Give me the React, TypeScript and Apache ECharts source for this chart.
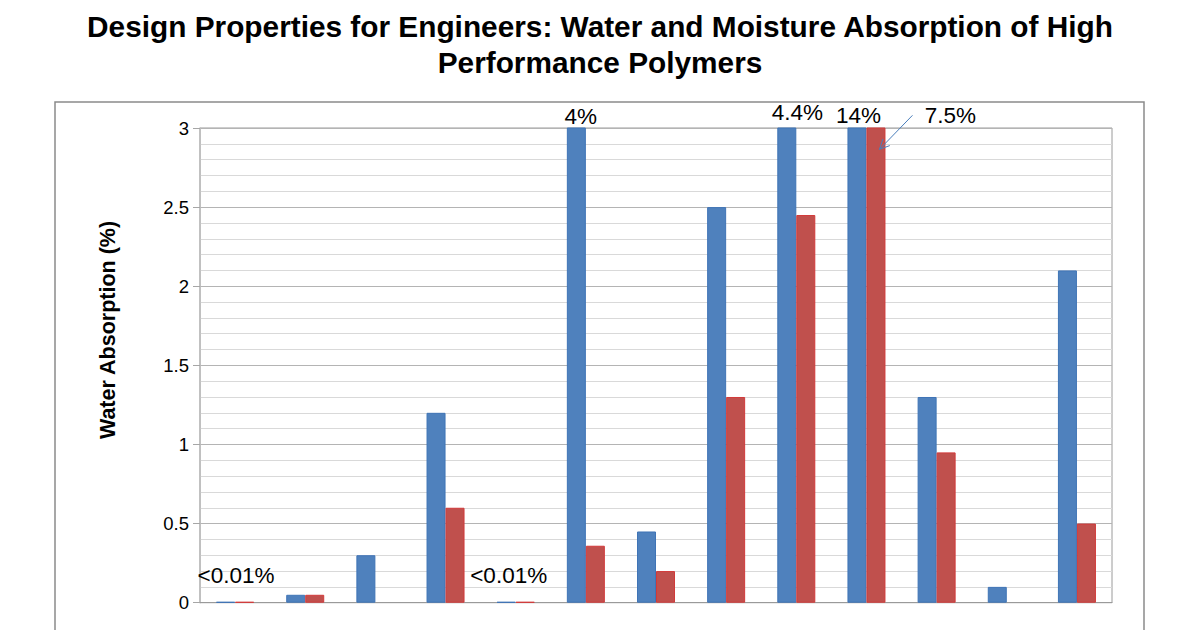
import React, { useEffect, useRef } from "react";
import * as echarts from "echarts";

const categories = ["1", "2", "3", "4", "5", "6", "7", "8", "9", "10", "11", "12", "13"];
const waterAbsorption = [0.005, 0.05, 0.3, 1.2, 0.005, 4, 0.45, 2.5, 4.4, 14, 1.3, 0.1, 2.1];
const moistureAbsorption = [0.005, 0.05, null, 0.6, 0.005, 0.36, 0.2, 1.3, 2.45, 7.5, 0.95, null, 0.5];
const yMin = 0;
const yMax = 3;
const yInterval = 0.5;

const annotations = [
  { cat: 0, value: 0.172, text: "<0.01%", dx: 1 },
  { cat: 4, value: 0.172, text: "<0.01%", dx: -7 },
  { cat: 5, value: 3.07, text: "4%", dx: -5 },
  { cat: 8, value: 3.095, text: "4.4%", dx: 1 },
  { cat: 9, value: 3.08, text: "14%", dx: -8 },
  { cat: 9, value: 3.08, text: "7.5%", dx: 84 },
];
const arrow = { cat: 9, fromDx: 46, fromValue: 3.08, toDx: 13, toValue: 2.865 };

const FONT = "'Liberation Sans', Arial, Helvetica, sans-serif";

export default function App() {
  const ref = useRef<HTMLDivElement>(null);
  useEffect(() => {
    document.body.style.margin = "0";
    if (!ref.current) return;
    const chart = echarts.init(ref.current, null, { renderer: "svg" });
    chart.setOption({
      animation: false,
      backgroundColor: "#ffffff",
      title: {
        text: "Design Properties for Engineers: Water and Moisture Absorption of High\nPerformance Polymers",
        left: "center",
        top: 3,
        textStyle: {
          fontFamily: FONT,
          fontSize: 29.8,
          fontWeight: "bold",
          color: "#000",
          lineHeight: 36,
        },
      },
      grid: {
        left: 200,
        right: 88,
        top: 128,
        bottom: 27.3,
        show: true,
        borderColor: "#9a9a9a",
        borderWidth: 1,
        backgroundColor: "transparent",
      },
      xAxis: {
        type: "category",
        data: categories,
        axisTick: { show: false },
        axisLabel: { show: false },
        axisLine: { show: true, lineStyle: { color: "#9a9a9a", width: 1 } },
      },
      yAxis: {
        type: "value",
        min: yMin,
        max: yMax,
        interval: yInterval,
        axisLine: { show: true, lineStyle: { color: "#bdbdbd", width: 1.5 } },
        axisTick: { show: true, length: 7, lineStyle: { color: "#a6a6a6" } },
        axisLabel: {
          fontFamily: FONT,
          fontSize: 18.5,
          color: "#000",
          margin: 11,
        },
        splitLine: { show: true, lineStyle: { color: "#b4b4b4", width: 1.2 } },
        minorTick: { show: false, splitNumber: 5 },
        minorSplitLine: { show: true, lineStyle: { color: "#d9d9d9", width: 1.2 } },
      },
      series: [
        {
          name: "Water Absorption",
          type: "bar",
          data: waterAbsorption,
          barWidth: 19,
          barGap: "0%",
          clip: true,
          itemStyle: { color: "#4F81BD", borderColor: "#3f74b6", borderWidth: 1 },
        },
        {
          name: "Moisture Absorption",
          type: "bar",
          data: moistureAbsorption,
          barWidth: 19,
          barGap: "0%",
          clip: true,
          itemStyle: { color: "#C0504D", borderColor: "#d23a3a", borderWidth: 1 },
        },
      ],
    });

    const px = (cat: number, v: number) =>
      chart.convertToPixel({ xAxisIndex: 0, yAxisIndex: 0 }, [cat, v]) as number[];

    const texts = annotations.map((a) => {
      const p = px(a.cat, a.value);
      return {
        type: "text",
        x: p[0] + a.dx,
        y: p[1],
        z: 10,
        style: {
          text: a.text,
          fontFamily: FONT,
          fontSize: 22.5,
          fill: "#000",
          align: "center",
          verticalAlign: "middle",
        },
      };
    });

    const s = px(arrow.cat, arrow.fromValue);
    const e = px(arrow.cat, arrow.toValue);
    const x1 = s[0] + arrow.fromDx;
    const y1 = s[1];
    const x2 = e[0] + arrow.toDx;
    const y2 = e[1];
    const ang = Math.atan2(y1 - y2, x1 - x2);
    const headLen = 11;
    const spread = 0.45;
    const h1 = [x2 + headLen * Math.cos(ang + spread), y2 + headLen * Math.sin(ang + spread)];
    const h2 = [x2 + headLen * Math.cos(ang - spread), y2 + headLen * Math.sin(ang - spread)];

    chart.setOption({
      graphic: [
        {
          type: "rect",
          z: -1,
          silent: true,
          shape: { x: 55, y: 102, width: 1089, height: 600 },
          style: { fill: "none", stroke: "#8a8a8a", lineWidth: 1.5 },
        },
        {
          type: "text",
          x: 108,
          y: 330,
          rotation: Math.PI / 2,
          style: {
            text: "Water Absorption (%)",
            fontFamily: FONT,
            fontSize: 21.5,
            fontWeight: "bold",
            fill: "#000",
            align: "center",
            verticalAlign: "middle",
          },
        },
        ...texts,
        {
          type: "line",
          z: 11,
          shape: { x1, y1, x2, y2 },
          style: { stroke: "#4a7ebb", lineWidth: 1 },
        },
        {
          type: "polyline",
          z: 11,
          shape: { points: [h1, [x2, y2], h2] },
          style: { stroke: "#4a7ebb", lineWidth: 1, fill: "none" },
        },
      ],
    });

    return () => chart.dispose();
  }, []);
  return <div ref={ref} style={{ width: 1200, height: 630 }} />;
}
